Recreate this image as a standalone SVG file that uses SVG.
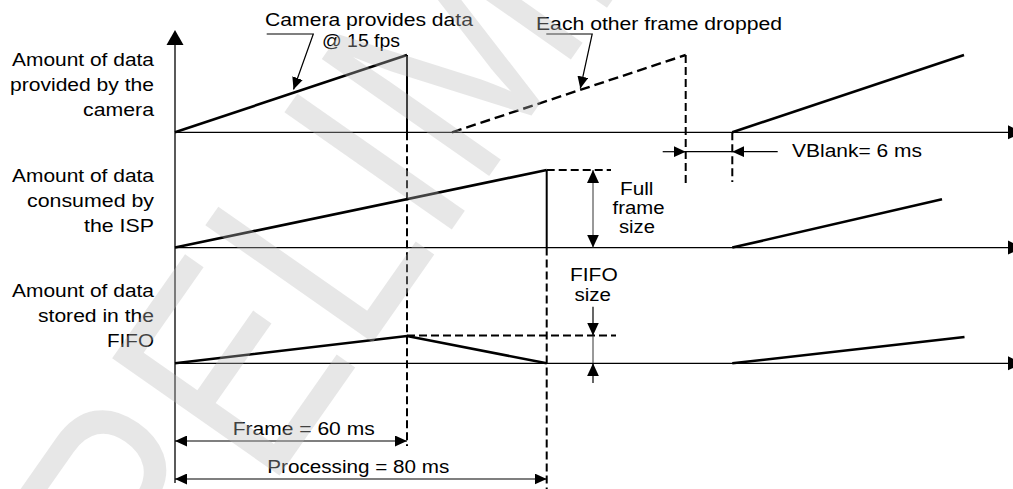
<svg xmlns="http://www.w3.org/2000/svg" width="1013" height="489" viewBox="0 0 1013 489">
<style>
  text { font-family: "Liberation Sans", Arial, sans-serif; font-size: 18.7px; fill: #000; }
  .ax { stroke: #000; stroke-width: 1.3; fill: none; }
  .ramp { stroke: #000; stroke-width: 2.6; fill: none; stroke-linecap: butt; }
  .vs { stroke: #000; stroke-width: 2; fill: none; }
  .dash { stroke: #000; stroke-width: 2; fill: none; stroke-dasharray: 8 4; }
  .dramp { stroke: #000; stroke-width: 2.4; fill: none; stroke-dasharray: 10 5; }
  .thin { stroke: #000; stroke-width: 1.2; fill: none; }
  .dim { stroke: #333; stroke-width: 1; fill: none; }
  .wm { font-size: 297px; fill: #bbbbbb; fill-opacity: 0.35; }
</style>
<defs>
  <marker id="ah" viewBox="0 0 12 11" refX="12" refY="5.5" markerWidth="12" markerHeight="11" markerUnits="userSpaceOnUse" orient="auto-start-reverse">
    <path d="M0,0 L12,5.5 L0,11 Z" fill="#000"/>
  </marker>
  <marker id="ahv" viewBox="0 0 13 12" refX="13" refY="6" markerWidth="13" markerHeight="12" markerUnits="userSpaceOnUse" orient="auto-start-reverse">
    <path d="M0,0 L13,6 L0,12 Z" fill="#000"/>
  </marker>
</defs>

<g id="axes">
  <line class="ax" x1="175" y1="44" x2="175" y2="483"/>
  <polygon points="175,30 166.5,45 183.5,45" fill="#000"/>
  <line class="ax" x1="175" y1="132.3" x2="1009" y2="132.3"/>
  <polygon points="1008,125.3 1023,132.3 1008,139.3" fill="#000"/>
  <line class="ax" x1="175" y1="247.6" x2="1009" y2="247.6"/>
  <polygon points="1008,240.6 1023,247.6 1008,254.6" fill="#000"/>
  <line class="ax" x1="175" y1="363.3" x2="1009" y2="363.3"/>
  <polygon points="1008,356.3 1023,363.3 1008,370.3" fill="#000"/>
</g>

<g id="labels">
  <text x="12" y="65.7" textLength="142" lengthAdjust="spacingAndGlyphs">Amount of data</text>
  <text x="10" y="90.7" textLength="144" lengthAdjust="spacingAndGlyphs">provided by the</text>
  <text x="83" y="115.7" textLength="71" lengthAdjust="spacingAndGlyphs">camera</text>
  <text x="12" y="181.7" textLength="142" lengthAdjust="spacingAndGlyphs">Amount of data</text>
  <text x="27" y="206.7" textLength="127" lengthAdjust="spacingAndGlyphs">consumed by</text>
  <text x="84" y="231.7" textLength="70" lengthAdjust="spacingAndGlyphs">the ISP</text>
  <text x="12" y="296.7" textLength="142" lengthAdjust="spacingAndGlyphs">Amount of data</text>
  <text x="38" y="321.7" textLength="116" lengthAdjust="spacingAndGlyphs">stored in the</text>
  <text x="107" y="347" textLength="47" lengthAdjust="spacingAndGlyphs">FIFO</text>
</g>

<g id="camera-signal">
  <polyline class="ramp" points="175,132.3 407,55"/>
  <line class="vs" x1="407" y1="55" x2="407" y2="132.3"/>
  <line class="dramp" x1="452" y1="132.3" x2="685.7" y2="55"/>
  <line class="dash" x1="685.7" y1="55" x2="685.7" y2="183"/>
  <line class="ramp" x1="732.3" y1="132.3" x2="964" y2="55"/>
  <line class="dash" x1="732.3" y1="132.3" x2="732.3" y2="182"/>
</g>

<g id="isp-signal">
  <line class="ramp" x1="175" y1="247.6" x2="546.7" y2="170"/>
  <line class="vs" x1="546.7" y1="170" x2="546.7" y2="247.6"/>
  <line class="dash" x1="546.7" y1="170" x2="611" y2="170"/>
  <line class="ramp" x1="732.3" y1="247.6" x2="942" y2="199.3"/>
</g>

<g id="fifo-signal">
  <polyline class="ramp" points="175,363.3 407,336 546.7,363.3"/>
  <line class="dash" x1="407" y1="335.5" x2="616" y2="335.5"/>
  <line class="ramp" x1="732.3" y1="363.3" x2="964.5" y2="337"/>
</g>

<g id="markers-vertical">
  <line class="dash" x1="407" y1="132.3" x2="407" y2="446"/>
  <line class="dash" x1="546.7" y1="247.6" x2="546.7" y2="489"/>
</g>

<g id="connectors">
  <polyline class="thin" points="266.7,34 313.3,34 293.5,89.5" marker-end="url(#ah)"/>
  <polyline class="thin" points="546.3,34 592.2,34 580.3,88.5" marker-end="url(#ah)"/>
  <line class="thin" x1="662.7" y1="151.7" x2="685.7" y2="151.7" marker-end="url(#ah)"/>
  <line class="thin" x1="685.7" y1="151.7" x2="732.3" y2="151.7"/>
  <line class="thin" x1="777.7" y1="151.7" x2="732.3" y2="151.7" marker-end="url(#ah)"/>
  <line class="dim" x1="593" y1="170" x2="593" y2="247.6" marker-start="url(#ahv)" marker-end="url(#ahv)"/>
  <line class="thin" x1="593" y1="306.7" x2="593" y2="335.5" marker-end="url(#ahv)"/>
  <line class="dim" x1="593" y1="335.5" x2="593" y2="363.3"/>
  <line class="thin" x1="593" y1="383" x2="593" y2="363.3" marker-end="url(#ahv)"/>
  <line class="thin" x1="175" y1="441" x2="407" y2="441" marker-start="url(#ah)" marker-end="url(#ah)"/>
  <line class="thin" x1="175" y1="479" x2="546.7" y2="479" marker-start="url(#ah)" marker-end="url(#ah)"/>
</g>

<g id="annotations">
  <text x="265" y="26" textLength="208" lengthAdjust="spacingAndGlyphs">Camera provides data</text>
  <text x="322" y="46.7" textLength="78" lengthAdjust="spacingAndGlyphs">@ 15 fps</text>
  <text x="536" y="30.3" textLength="246" lengthAdjust="spacingAndGlyphs">Each other frame dropped</text>
  <text x="792" y="156.7" textLength="130" lengthAdjust="spacingAndGlyphs">VBlank= 6 ms</text>
  <text x="620" y="195" textLength="33.5" lengthAdjust="spacingAndGlyphs">Full</text>
  <text x="612.5" y="214" textLength="52" lengthAdjust="spacingAndGlyphs">frame</text>
  <text x="619" y="233" textLength="36" lengthAdjust="spacingAndGlyphs">size</text>
  <text x="570" y="280.7" textLength="47.7" lengthAdjust="spacingAndGlyphs">FIFO</text>
  <text x="574.5" y="300.7" textLength="36.5" lengthAdjust="spacingAndGlyphs">size</text>
  <text x="232.7" y="435" textLength="142" lengthAdjust="spacingAndGlyphs">Frame = 60 ms</text>
  <text x="267.3" y="472.7" textLength="182" lengthAdjust="spacingAndGlyphs">Processing = 80 ms</text>
</g>

<g id="watermark">
  <text class="wm" x="0" y="0" transform="translate(74 769) rotate(-55) scale(0.82 1)">PRELIMINARY</text>
</g>
</svg>
